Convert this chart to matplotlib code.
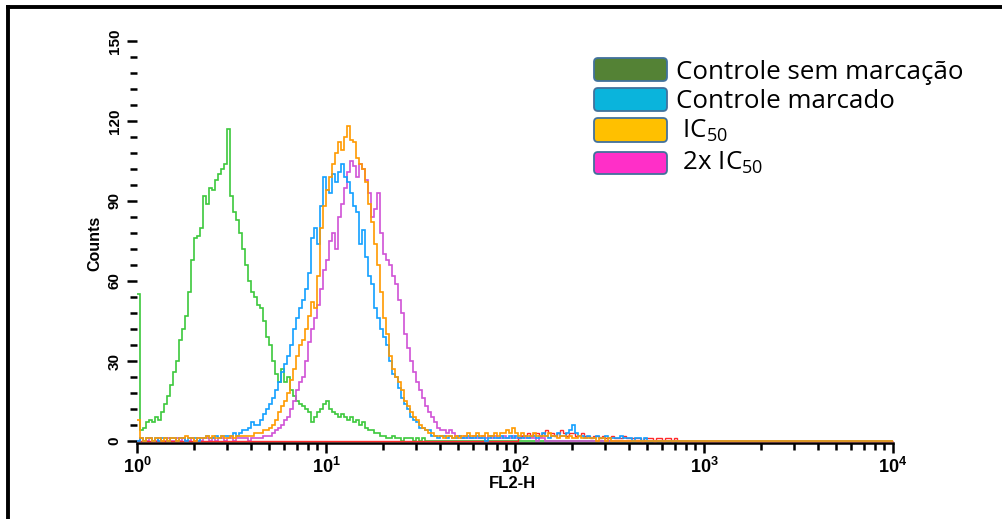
import numpy as np
import matplotlib
matplotlib.use("Agg")
import matplotlib.pyplot as plt
from matplotlib.patches import FancyBboxPatch
from matplotlib.lines import Line2D
from matplotlib.ticker import MultipleLocator, FixedLocator, NullFormatter
from matplotlib.transforms import IdentityTransform

plt.rcParams['mathtext.fontset'] = 'custom'
plt.rcParams['mathtext.rm'] = 'Open Sans'
plt.rcParams['mathtext.it'] = 'Open Sans:italic'
plt.rcParams['mathtext.bf'] = 'Liberation Sans:bold'

# ---------------- data (counts per log channel) ----------------
n_channels = 252          # channels spanning 10^0 .. 10^4
decades = 4

controle_sem_marcacao = [
    55, 4, 5, 7, 8, 7, 9, 8, 11, 14,
    17, 21, 26, 30, 38, 42, 47, 56, 68, 76,
    77, 80, 92, 89, 95, 94, 98, 100, 102, 104,
    117, 92, 86, 83, 78, 72, 66, 60, 56, 54,
    51, 50, 45, 39, 36, 30, 25, 22, 27, 22,
    24, 19, 17, 15, 14, 13, 12, 11, 7, 9,
    11, 12, 14, 15, 12, 11, 10, 9, 10, 9,
    8, 9, 7, 8, 6, 7, 5, 4, 4, 3,
    3, 2, 2, 1, 1, 2, 1, 1, 0, 1,
    1, 1, 0, 1, 0, 1, 0]

controle_marcado = [
    0, 1, 0, 1, 1, 0, 1, 0, 1, 1,
    0, 1, 1, 0, 1, 1, 0, 1, 1, 1,
    0, 1, 1, 2, 1, 1, 2, 1, 2, 2,
    2, 2, 3, 2, 3, 4, 4, 5, 7, 6,
    6, 8, 10, 12, 14, 16, 19, 22, 26, 29,
    32, 36, 42, 46, 50, 53, 57, 63, 76, 80,
    74, 88, 99, 94, 93, 100, 97, 101, 104, 99,
    97, 93, 88, 86, 74, 79, 69, 62, 59, 50,
    46, 42, 39, 36, 30, 25, 24, 20, 16, 14,
    12, 9, 8, 7, 5, 5, 4, 4, 2, 2,
    1, 2, 2, 1, 2, 1, 1, 2, 1, 1,
    2, 1, 1, 2, 1, 1, 0, 1, 2, 1,
    1, 2, 1, 1, 2, 1, 2, 1, 1, 2,
    1, 2, 2, 1, 2, 3, 2, 1, 2, 2,
    3, 2, 2, 3, 4, 6, 3, 2, 2, 1,
    2, 1, 1, 2, 1, 1, 2, 1, 1, 1,
    1, 2, 1, 1, 1, 0, 1, 1, 0, 1]

ic50 = [
    8, 1, 0, 1, 1, 0, 1, 1, 0, 1,
    0, 1, 1, 0, 1, 1, 2, 1, 1, 0,
    1, 1, 1, 2, 1, 2, 1, 1, 2, 1,
    1, 2, 1, 2, 2, 2, 2, 2, 2, 3,
    3, 3, 4, 4, 5, 6, 8, 11, 13, 15,
    18, 23, 27, 32, 36, 38, 42, 47, 52, 50,
    62, 80, 88, 94, 99, 104, 108, 112, 109, 114,
    118, 113, 112, 106, 104, 102, 97, 89, 82, 74,
    66, 56, 46, 40, 32, 27, 24, 22, 19, 15,
    13, 11, 9, 8, 6, 5, 4, 3, 3, 2,
    2, 2, 1, 2, 2, 1, 2, 1, 2, 2,
    3, 2, 2, 3, 2, 2, 3, 2, 2, 3,
    2, 3, 3, 4, 3, 5, 3, 2, 3, 2,
    2, 2, 3, 2, 2, 2, 2, 3, 2, 2,
    1, 2, 2, 1, 2, 1, 1, 2, 1, 1,
    1, 1, 1, 0, 1, 1, 0, 1]

ic50_2x = [
    0, 1, 0, 0, 1, 0, 0, 1, 0, 0,
    1, 0, 0, 1, 0, 1, 0, 0, 1, 0,
    1, 0, 1, 1, 0, 1, 0, 1, 1, 0,
    1, 1, 0, 1, 1, 1, 1, 0, 1, 1,
    1, 1, 2, 2, 2, 3, 4, 5, 6, 8,
    9, 12, 15, 19, 22, 24, 30, 37, 42, 46,
    51, 57, 64, 68, 75, 78, 72, 84, 89, 95,
    101, 105, 103, 99, 104, 102, 98, 93, 84, 87,
    93, 78, 70, 68, 66, 62, 59, 53, 48, 40,
    35, 30, 26, 22, 19, 16, 13, 11, 9, 7,
    5, 4, 4, 3, 4, 3, 2, 2, 1, 2,
    1, 1, 2, 1, 1, 2, 1, 2, 1, 2,
    1, 1, 2, 1, 1, 2, 1, 1, 2, 1,
    1, 1, 1, 0, 1, 1]

residual_red_first_channel = 127
residual_red = [
    1, 2, 2, 3, 2, 3, 3, 2, 3, 4,
    3, 3, 2, 3, 4, 3, 2, 3, 3, 2,
    2, 3, 2, 2, 1, 2, 2, 1, 2, 1,
    1, 2, 1, 1, 1, 2, 1, 1, 1, 1,
    1, 0, 1, 1, 1, 0, 1, 1, 0, 1,
    1, 0, 1]

legend_labels = ["Controle sem marcação", "Controle marcado", " IC$_{50}$", " 2x IC$_{50}$"]
y_tick_values = [0, 30, 60, 90, 120, 150]
x_tick_values = [1, 10, 100, 1000, 10000]
x_tick_labels = [r"$\mathbf{10^{0}}$", r"$\mathbf{10^{1}}$", r"$\mathbf{10^{2}}$",
                 r"$\mathbf{10^{3}}$", r"$\mathbf{10^{4}}$"]

# ---------------- figure ----------------
W, H = 1003, 519
fig = plt.figure(figsize=(W / 100, H / 100), dpi=100)
fig.patch.set_facecolor("white")

ax = fig.add_axes([137 / W, (H - 441) / H, 756 / W, 400 / H])
ax.set_xscale("log")
ax.set_xlim(1, 10 ** decades)
ax.set_ylim(0, 150)

edges = np.logspace(0, decades, n_channels + 1)


def full(vals, start=0):
    arr = np.zeros(n_channels)
    arr[start:start + len(vals)] = vals
    return arr


lw = 1.2
ax.stairs(full(controle_sem_marcacao), edges, baseline=None, color="#3cc83c", lw=lw, clip_on=False, zorder=3)
ax.stairs(full(ic50_2x), edges, baseline=None, color="#d052d6", lw=lw, clip_on=False, zorder=4)
ax.stairs(full(residual_red, residual_red_first_channel), edges, baseline=None, color="#ff2a2a",
          lw=1.0, clip_on=False, zorder=5)
ax.stairs(full(controle_marcado), edges, baseline=None, color="#12a0ff", lw=lw, clip_on=False, zorder=6)
ax.stairs(full(ic50), edges, baseline=None, color="#ff9a00", lw=lw, clip_on=False, zorder=7)

for s in ["top", "right", "left"]:
    ax.spines[s].set_visible(False)
ax.spines["bottom"].set_position(("outward", 1.2))
ax.spines["bottom"].set_linewidth(1.8)

ax.set_yticks(y_tick_values)
ax.set_yticklabels([str(v) for v in y_tick_values], rotation=90, va="center",
                   fontfamily="Liberation Sans", fontweight="bold", fontsize=11)
ax.yaxis.set_minor_locator(MultipleLocator(6))
ax.tick_params(axis="y", which="major", direction="out", length=7, width=1.8, pad=4)
ax.tick_params(axis="y", which="minor", direction="out", length=5, width=1.8)

ax.xaxis.set_major_locator(FixedLocator(x_tick_values))
ax.set_xticklabels(x_tick_labels, fontsize=13)
ax.xaxis.set_minor_locator(FixedLocator([m * 10 ** d for d in range(decades) for m in range(2, 10)]))
ax.xaxis.set_minor_formatter(NullFormatter())
ax.tick_params(axis="x", which="major", direction="out", length=7, width=1.8, pad=3)
ax.tick_params(axis="x", which="minor", direction="out", length=5, width=1.8)

fig.text(95 / W, 1 - 243 / H, "Counts", rotation=90, ha="center", va="center",
         fontfamily="Liberation Sans", fontweight="bold", fontsize=11.5)
fig.text(512 / W, 1 - 484 / H, "FL2-H", ha="center", va="center",
         fontfamily="Liberation Sans", fontweight="bold", fontsize=12)

# ---------------- legend (PowerPoint style boxes) ----------------
legend_colors = ["#548235", "#0ab4dc", "#ffc000", "#ff2fc8"]
box_top = [58, 88, 118, 152]
box_h = [23, 23, 24, 22]
text_base = [79, 108, 138, 170]
for lab, col, bt, bh, tb in zip(legend_labels, legend_colors, box_top, box_h, text_base):
    p = FancyBboxPatch((594, H - bt - bh), 73, bh,
                       boxstyle="round,pad=0,rounding_size=4",
                       facecolor=col, edgecolor="#41719c", lw=1.3,
                       transform=IdentityTransform())
    fig.add_artist(p)
    fig.text(676 / W, 1 - tb / H, lab, ha="left", va="baseline",
             fontfamily="Open Sans", fontsize=18.6, color="black")

# ---------------- outer frame ----------------
fig.add_artist(Line2D([8 / W, 1], [1 - 7 / H, 1 - 7 / H], color="black", lw=2.8,
                      transform=fig.transFigure, solid_capstyle="projecting"))
fig.add_artist(Line2D([8 / W, 8 / W], [0, 1 - 7 / H], color="black", lw=2.8,
                      transform=fig.transFigure, solid_capstyle="projecting"))

fig.savefig("out.png", dpi=100)
